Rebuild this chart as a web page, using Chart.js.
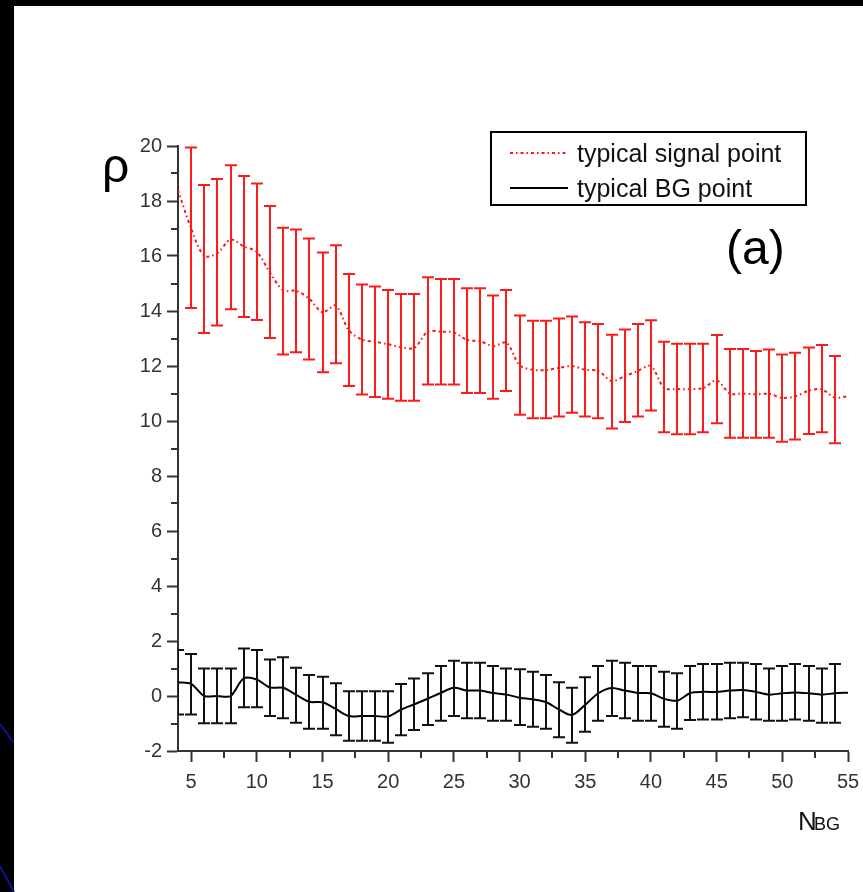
<!DOCTYPE html>
<html><head><meta charset="utf-8">
<script src="https://cdn.jsdelivr.net/npm/chart.js@4.4.1/dist/chart.umd.min.js"></script>
<style>html,body{margin:0;padding:0;background:#000;overflow:hidden}#wrap{position:absolute;left:0;top:0;width:863px;height:892px}</style>
</head><body><div id="wrap"><canvas id="c" width="863" height="892"></canvas></div>
<script>
const nbg = [4,5,6,7,8,9,10,11,12,13,14,15,16,17,18,19,20,21,22,23,24,25,26,27,28,29,30,31,32,33,34,35,36,37,38,39,40,41,42,43,44,45,46,47,48,49,50,51,52,53,54,55];
const signalMean = [18.4,17.0,16.0,16.1,16.6,16.35,16.15,15.4,14.75,14.73,14.44,13.95,14.2,13.3,12.96,12.88,12.79,12.68,12.66,13.25,13.25,13.22,12.95,12.9,12.72,12.85,12.03,11.86,11.85,11.93,12.0,11.86,11.82,11.45,11.63,11.82,12.0,11.2,11.16,11.16,11.2,11.48,11.0,11.0,10.97,10.99,10.84,10.9,11.1,11.15,10.85,10.9];
const signalLow = [null,14.11,13.2,13.47,14.06,13.78,13.67,13.02,12.42,12.5,12.24,11.77,12.1,11.27,10.96,10.87,10.81,10.74,10.74,11.33,11.33,11.33,11.02,11.02,10.81,11.09,10.23,10.1,10.1,10.16,10.3,10.16,10.1,9.73,9.96,10.16,10.38,9.59,9.52,9.52,9.59,9.92,9.39,9.39,9.39,9.39,9.25,9.33,9.53,9.59,9.19,null];
const signalHigh = [null,19.95,18.58,18.8,19.3,18.91,18.64,17.82,17.03,16.96,16.64,16.13,16.39,15.35,14.96,14.89,14.76,14.62,14.62,15.23,15.16,15.16,14.83,14.83,14.56,14.76,13.84,13.65,13.65,13.73,13.8,13.59,13.53,13.14,13.33,13.53,13.66,12.88,12.81,12.81,12.81,13.13,12.62,12.62,12.55,12.6,12.42,12.48,12.67,12.76,12.36,null];
const bgMean = [0.5,0.44,0.0,0.0,0.0,0.64,0.6,0.31,0.3,0.04,-0.21,-0.23,-0.47,-0.73,-0.73,-0.73,-0.74,-0.49,-0.3,-0.1,0.11,0.3,0.2,0.2,0.11,0.05,-0.06,-0.12,-0.22,-0.49,-0.69,-0.32,0.1,0.29,0.2,0.11,0.1,-0.1,-0.17,0.11,0.15,0.15,0.2,0.22,0.15,0.05,0.1,0.13,0.1,0.05,0.1,0.12];
const bgLow = [-0.67,-0.67,-0.99,-0.99,-0.99,-0.41,-0.41,-0.73,-0.81,-0.97,-1.19,-1.19,-1.43,-1.63,-1.63,-1.63,-1.7,-1.43,-1.24,-1.05,-0.9,-0.73,-0.81,-0.81,-0.9,-0.9,-1.05,-1.12,-1.19,-1.5,-1.7,-1.3,-0.9,-0.73,-0.81,-0.9,-0.9,-1.12,-1.19,-0.87,-0.85,-0.85,-0.81,-0.77,-0.85,-0.9,-0.9,-0.85,-0.9,-0.97,-0.97,null];
const bgHigh = [1.67,1.53,1.0,1.0,1.0,1.73,1.67,1.33,1.41,1.03,0.76,0.7,0.46,0.17,0.17,0.17,0.17,0.44,0.64,0.83,1.09,1.28,1.21,1.21,1.09,1.0,0.97,0.88,0.76,0.5,0.3,0.68,1.09,1.28,1.21,1.09,1.09,0.88,0.83,1.09,1.16,1.16,1.21,1.21,1.16,1.0,1.09,1.16,1.09,1.0,1.16,null];
const xTicks = [5,10,15,20,25,30,35,40,45,50,55];
const yTicks = [-2,0,2,4,6,8,10,12,14,16,18,20];
const xMinorTicks = [7.5,12.5,17.5,22.5,27.5,32.5,37.5,42.5,47.5,52.5];
const yMinorTicks = [-1,1,3,5,7,9,11,13,15,17,19];
const seriesLabels = ['typical signal point','typical BG point'];

const FONT = "'Liberation Sans', Arial, sans-serif";
const AX = '#333';

const bgPlugin = {
  id:'bg',
  beforeDraw(chart){
    const ctx = chart.ctx;
    ctx.save();
    ctx.fillStyle='#000'; ctx.fillRect(0,0,chart.width,chart.height);
    ctx.fillStyle='#fff'; ctx.fillRect(14,6,chart.width-14,chart.height-6);
    ctx.strokeStyle='#10109a'; ctx.lineWidth=2;
    ctx.beginPath(); ctx.moveTo(0,724); ctx.lineTo(13,742); ctx.moveTo(0,866); ctx.lineTo(14,892); ctx.stroke();
    ctx.restore();
  }
};

const errorBars = {
  id:'errorBars',
  afterDatasetsDraw(chart){
    const {ctx, chartArea:ca, scales:{x,y}} = chart;
    ctx.save();
    ctx.beginPath(); ctx.rect(ca.left, ca.top-20, ca.right-ca.left+10, ca.bottom-ca.top+40); ctx.clip();
    chart.data.datasets.forEach(ds=>{
      if(!ds.errLow) return;
      ctx.strokeStyle = ds.errColor; ctx.lineWidth = 2;
      ds.data.forEach((p,j)=>{
        const lo = ds.errLow[j], hi = ds.errHigh[j];
        if(lo==null||hi==null) return;
        const px = Math.round(x.getPixelForValue(p.x));
        const pl = y.getPixelForValue(lo), ph = y.getPixelForValue(hi);
        ctx.beginPath();
        ctx.moveTo(px,pl); ctx.lineTo(px,ph);
        ctx.moveTo(px-6,pl); ctx.lineTo(px+6,pl);
        ctx.moveTo(px-6,ph); ctx.lineTo(px+6,ph);
        ctx.stroke();
      });
    });
    ctx.restore();
  }
};

const decor = {
  id:'decor',
  afterDraw(chart){
    const {ctx, chartArea:ca, scales:{x,y}} = chart;
    ctx.save();
    ctx.strokeStyle=AX; ctx.lineWidth=2;
    ctx.beginPath();
    xMinorTicks.forEach(v=>{const px=Math.round(x.getPixelForValue(v)); ctx.moveTo(px,ca.bottom); ctx.lineTo(px,ca.bottom+7);});
    yMinorTicks.forEach(v=>{const py=Math.round(y.getPixelForValue(v)); ctx.moveTo(ca.left,py); ctx.lineTo(ca.left-7,py);});
    ctx.stroke();
    ctx.fillStyle='#000';
    ctx.textBaseline='alphabetic'; ctx.textAlign='left';
    ctx.font='48px '+FONT; ctx.fillText('ρ',102,182);
    ctx.fillStyle='#111';
    ctx.font='26px '+FONT; ctx.fillText('N',798,830);
    ctx.font='18px '+FONT; ctx.fillText('BG',814,830);
    ctx.fillStyle='#000';
    ctx.font='48px '+FONT; ctx.fillText('(a)',726,264);
    const L={x:491,y:132,w:315,h:73};
    ctx.strokeStyle='#000'; ctx.lineWidth=2; ctx.strokeRect(L.x,L.y,L.w,L.h);
    const rows=[{y:153,tb:162},{y:188,tb:197}];
    chart.data.datasets.forEach((ds,i)=>{
      ctx.save();
      ctx.strokeStyle=ds.borderColor; ctx.lineWidth=2; ctx.setLineDash(ds.borderDash||[]);
      ctx.beginPath(); ctx.moveTo(510,rows[i].y); ctx.lineTo(568,rows[i].y); ctx.stroke();
      ctx.restore();
      ctx.fillStyle='#111'; ctx.font='25px '+FONT;
      ctx.fillText(ds.label,577,rows[i].tb);
    });
    ctx.restore();
  }
};

new Chart(document.getElementById('c'),{
  type:'line',
  data:{
    datasets:[
      {label:seriesLabels[0], data:nbg.map((n,i)=>({x:n,y:signalMean[i]})), borderColor:'#ff1414', borderWidth:2, borderDash:[3,3,1.5,3], pointRadius:0, tension:0.3, errLow:signalLow, errHigh:signalHigh, errColor:'#ff1a1a'},
      {label:seriesLabels[1], data:nbg.map((n,i)=>({x:n,y:bgMean[i]})), borderColor:'#000', borderWidth:2, pointRadius:0, tension:0.3, errLow:bgLow, errHigh:bgHigh, errColor:'#111'}
    ]
  },
  options:{
    responsive:false, animation:false,
    layout:{padding:{left:0,top:146,right:15,bottom:0}},
    plugins:{legend:{display:false}, tooltip:{enabled:false}},
    scales:{
      x:{type:'linear', min:4, max:55,
        afterBuildTicks:s=>{s.ticks=xTicks.map(v=>({value:v}));},
        afterFit:s=>{s.height=141; s.paddingLeft=0; s.paddingRight=0;},
        grid:{display:true, drawOnChartArea:false, drawTicks:true, tickLength:11, tickWidth:2, tickColor:AX},
        border:{display:true, color:AX, width:2},
        ticks:{color:'#333', font:{family:FONT,size:20}, padding:8, maxRotation:0, autoSkip:false}
      },
      y:{type:'linear', min:-2, max:20,
        afterBuildTicks:s=>{s.ticks=yTicks.map(v=>({value:v}));},
        afterFit:s=>{s.width=178; s.paddingTop=0; s.paddingBottom=0;},
        grid:{display:true, drawOnChartArea:false, drawTicks:true, tickLength:11, tickWidth:2, tickColor:AX},
        border:{display:true, color:AX, width:2},
        ticks:{color:'#333', font:{family:FONT,size:20}, padding:5, autoSkip:false}
      }
    }
  },
  plugins:[bgPlugin, errorBars, decor]
});
</script></body></html>
